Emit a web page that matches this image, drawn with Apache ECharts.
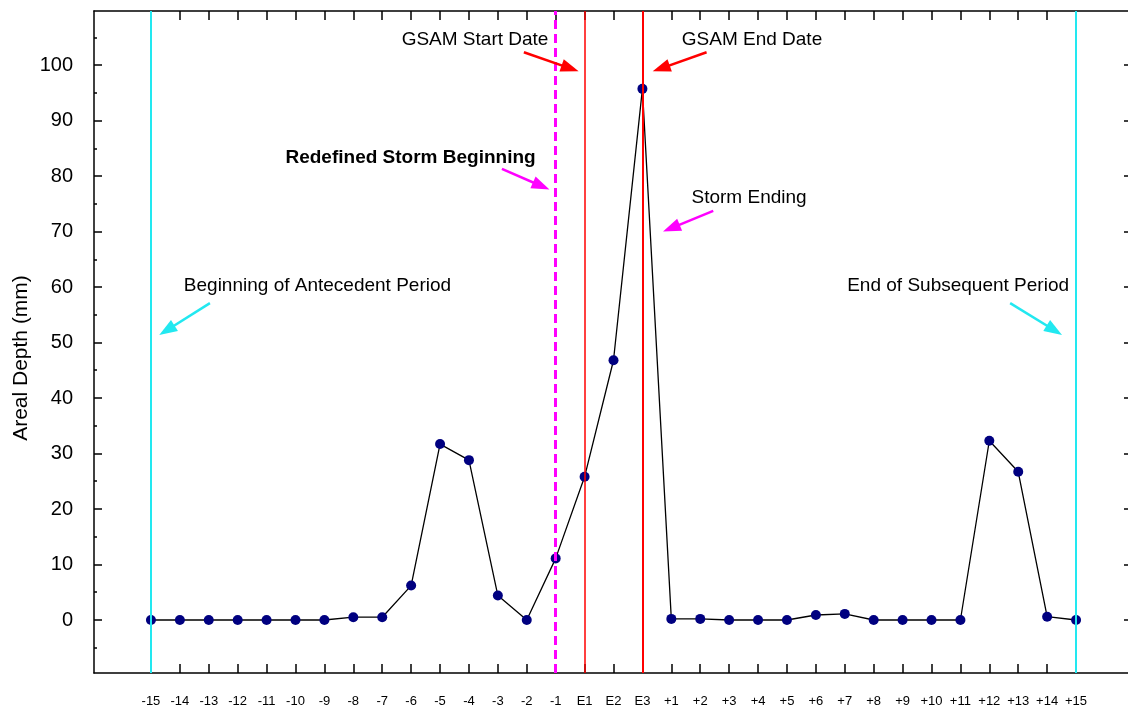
<!DOCTYPE html>
<html>
<head>
<meta charset="utf-8">
<title>Areal Depth</title>
<script src="https://cdn.jsdelivr.net/npm/echarts@6/dist/echarts.min.js"></script>
<style>
  html, body { margin: 0; padding: 0; background: #fff; overflow: hidden; }
  #chart { width: 1135px; height: 709px; }
</style>
</head>
<body>
<div id="chart"></div>
<script>
// Day labels around the storm event
const categories = ['-15','-14','-13','-12','-11','-10','-9','-8','-7','-6','-5','-4','-3','-2','-1',
  'E1','E2','E3',
  '+1','+2','+3','+4','+5','+6','+7','+8','+9','+10','+11','+12','+13','+14','+15'];

// Daily areal depth (mm)
const depths = [0, 0, 0, 0, 0, 0, 0, 0.5, 0.5, 6.2, 31.7, 28.8, 4.4, 0, 11.1,
  25.8, 46.8, 95.7,
  0.2, 0.2, 0, 0, 0, 0.9, 1.1, 0, 0, 0, 0, 32.3, 26.7, 0.6, 0];

// Y tick values
const majorTicks = [0, 10, 20, 30, 40, 50, 60, 70, 80, 90, 100];
const minorTicks = [-5, 5, 15, 25, 35, 45, 55, 65, 75, 85, 95, 105];

// Reference days marked with vertical lines
const periodBounds = ['-15', '+15'];
const redefinedStart = '-1';
const gsamStart = 'E1';
const gsamEnd = 'E3';

// Annotations: text, anchor [day position, depth], arrow tail and tip
const notes = [
  { text: 'GSAM Start Date', at: [11.21, 104.5], tail: [12.90, 102.3], tip: [14.50, 99.4], color: '#ff0000', bold: false },
  { text: 'GSAM End Date', at: [20.79, 104.5], tail: [19.22, 102.3], tip: [17.65, 99.4], color: '#ff0000', bold: false },
  { text: 'Redefined Storm Beginning', at: [8.98, 83.2], tail: [12.14, 81.3], tip: [13.50, 78.2], color: '#ff00ff', bold: true },
  { text: 'Storm Ending', at: [20.69, 76.0], tail: [19.45, 73.7], tip: [18.00, 70.6], color: '#ff00ff', bold: false },
  { text: 'Beginning of Antecedent Period', at: [5.76, 60.2], tail: [2.04, 57.1], tip: [0.55, 52.2], color: '#22e8f0', bold: false },
  { text: 'End of Subsequent Period', at: [27.92, 60.2], tail: [29.72, 57.1], tip: [31.25, 52.2], color: '#22e8f0', bold: false }
];

const FONT = '"Liberation Sans", Arial, sans-serif';
const idx = (c) => categories.indexOf(c);
const catIdx = categories.map((c, i) => i);

const chart = echarts.init(document.getElementById('chart'), null, { renderer: 'canvas' });

const axisLine = { show: true, onZero: false, lineStyle: { color: '#000', width: 1.5 } };
const tickStyle = { color: '#000', width: 1.5 };

const vLine = (cat, color, width, type) => ({
  xAxis: idx(cat),
  lineStyle: { color: color, width: width, type: type }
});

chart.setOption({
  animation: false,
  backgroundColor: '#fff',
  grid: { left: 94, right: 2, top: 11, bottom: 36 },
  xAxis: [
    {
      type: 'value', position: 'bottom', min: -1.97, max: 33.97,
      axisLine: axisLine, splitLine: { show: false },
      axisTick: { show: true, inside: true, length: 9, customValues: catIdx, lineStyle: tickStyle },
      axisLabel: { show: true, customValues: catIdx, margin: 22, fontSize: 13, color: '#000', fontFamily: FONT,
        formatter: (v) => categories[Math.round(v)] }
    },
    {
      type: 'value', position: 'top', min: -1.97, max: 33.97,
      axisLine: axisLine, splitLine: { show: false },
      axisTick: { show: true, inside: true, length: 9, customValues: catIdx, lineStyle: tickStyle },
      axisLabel: { show: false }
    }
  ],
  yAxis: [
    {
      type: 'value', position: 'left', min: -9.55, max: 109.73,
      axisLine: axisLine, splitLine: { show: false },
      axisTick: { show: true, inside: true, length: 8, customValues: majorTicks, lineStyle: tickStyle },
      axisLabel: { show: true, customValues: majorTicks, margin: 21, fontSize: 20, color: '#000', fontFamily: FONT }
    },
    {
      type: 'value', position: 'left', min: -9.55, max: 109.73,
      axisLine: { show: false, onZero: false }, splitLine: { show: false },
      axisTick: { show: true, inside: true, length: 3, customValues: minorTicks, lineStyle: tickStyle },
      axisLabel: { show: false }
    },
    {
      type: 'value', position: 'right', min: -9.55, max: 109.73,
      axisLine: { show: false, onZero: false }, splitLine: { show: false },
      axisTick: { show: true, inside: true, length: 9, customValues: majorTicks, lineStyle: tickStyle },
      axisLabel: { show: false }
    }
  ],
  graphic: [
    {
      type: 'text', x: 21, y: 358, rotation: Math.PI / 2,
      style: { text: 'Areal Depth (mm)', fontSize: 21, fontFamily: FONT, fill: '#000', align: 'center', verticalAlign: 'middle' }
    }
  ],
  series: [
    {
      name: 'Areal Depth', type: 'line', xAxisIndex: 0, yAxisIndex: 0,
      data: depths.map((v, i) => [i, v]),
      symbol: 'circle', symbolSize: 10,
      itemStyle: { color: '#000080' },
      lineStyle: { color: '#000', width: 1.3 },
      z: 2, silent: true
    },
    {
      name: 'markers', type: 'line', xAxisIndex: 0, yAxisIndex: 0, data: [],
      z: 5, silent: true,
      markLine: {
        silent: true, symbol: ['none', 'none'], animation: false,
        label: { show: false },
        emphasis: { disabled: true },
        data: [
          vLine(periodBounds[0], '#22e8f0', 2, 'solid'),
          vLine(periodBounds[1], '#22e8f0', 2, 'solid'),
          vLine(redefinedStart, '#ff00ff', 3, [9, 5]),
          vLine(gsamStart, '#ff0000', 1.5, 'solid'),
          vLine(gsamEnd, '#ff0000', 2, 'solid')
        ]
      }
    },
    {
      name: 'notes', type: 'line', xAxisIndex: 0, yAxisIndex: 0, data: [],
      z: 6, silent: true,
      markLine: {
        silent: true, animation: false,
        symbol: ['none', 'triangle'], symbolSize: [13, 18],
        label: { show: false },
        emphasis: { disabled: true },
        data: notes.map((n) => [
          { coord: n.tail, lineStyle: { color: n.color, width: 2.5, type: 'solid' }, itemStyle: { color: n.color } },
          { coord: n.tip }
        ])
      },
      markPoint: {
        silent: true, animation: false,
        symbol: 'circle', symbolSize: 0,
        data: notes.map((n) => ({
          coord: n.at,
          label: {
            show: true, position: 'inside', formatter: n.text,
            fontSize: 19, fontFamily: FONT, color: '#000',
            fontWeight: n.bold ? 'bold' : 'normal'
          }
        }))
      }
    }
  ]
});
</script>
</body>
</html>
